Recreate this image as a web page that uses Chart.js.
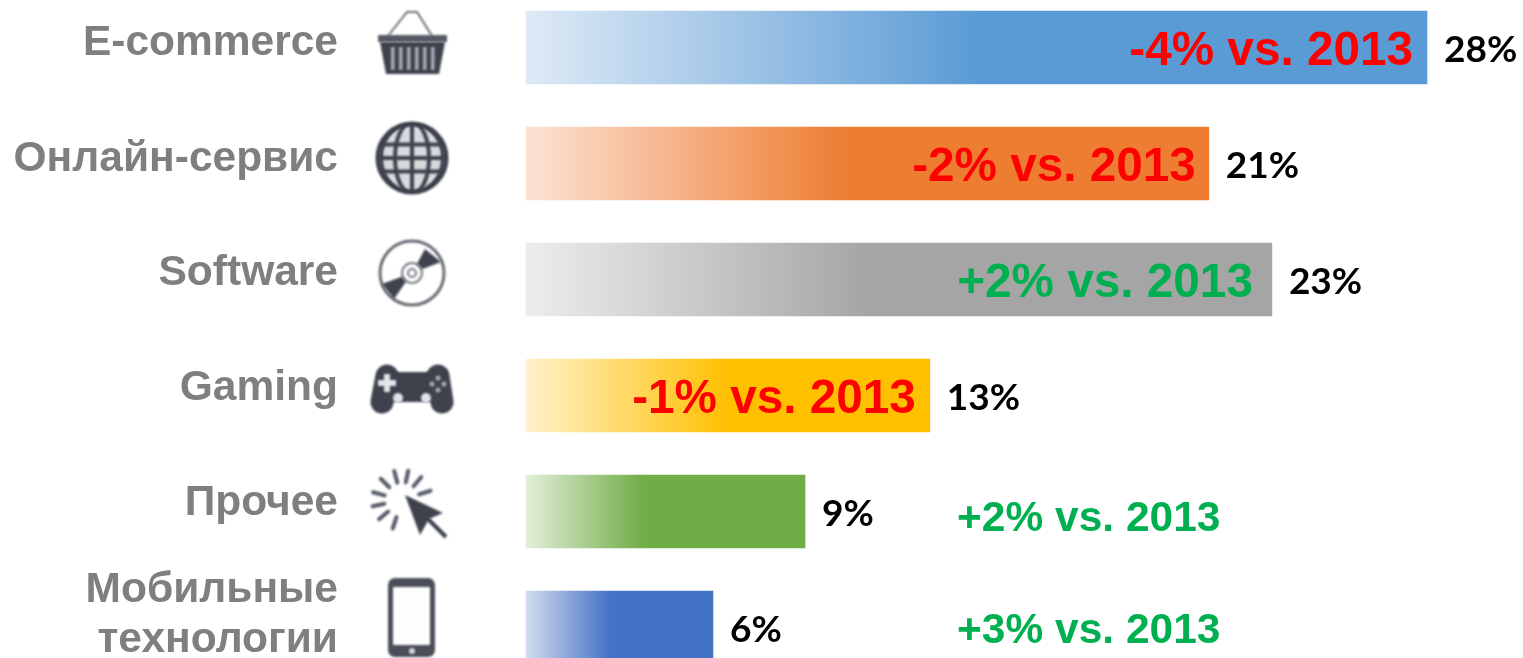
<!DOCTYPE html>
<html lang="ru">
<head>
    <meta charset="UTF-8">
    <title>Chart.js bars</title>
    <script src="https://cdn.jsdelivr.net/npm/chart.js"></script>
    <style>
        html, body { margin: 0; background: #fff; overflow: hidden; }
        canvas { display: block; }
    </style>
</head>
<body>
    <canvas id="shares" width="1523" height="658"></canvas>
    <script>
        const categories = ['E-commerce', 'Онлайн-сервис', 'Software', 'Gaming', 'Прочее', ['Мобильные', 'технологии']];
        // lengths as measured in the picture, they differ slightly from the printed labels
        const barLengths = [28, 21.22, 23.18, 12.55, 8.67, 5.81];
        const shareLabels = ['28%', '21%', '23%', '13%', '9%', '6%'];
        const deltaLabels = ['-4% vs. 2013', '-2% vs. 2013', '+2% vs. 2013', '-1% vs. 2013', '+2% vs. 2013', '+3% vs. 2013'];

        const barColors = ['#5b9bd5', '#ed7d31', '#a5a5a5', '#ffc000', '#70ad47', '#4472c4'];
        const barStartColors = ['#deeaf6', '#fbe3d5', '#ededed', '#fff2cc', '#e2efd9', '#d2dcf0'];
        const solidFrom = [0.5, 0.47, 0.46, 0.5, 0.42, 0.45];
        const deltaColors = ['#ff0000', '#ff0000', '#00b050', '#ff0000', '#00b050', '#00b050'];
        const deltaInset = [14, 13, 19, 14];
        const labelShift = [-4, -4.5, -6, -7.5, -8.5, -12.5];

        const ICON = '#3d424d';

        function basket(c) {
            c.strokeStyle = '#6b6f78'; c.lineWidth = 2;
            c.beginPath(); c.moveTo(388, 36); c.lineTo(407, 12); c.lineTo(417, 12); c.lineTo(432, 36); c.stroke();
            c.fillStyle = '#555963'; c.fillRect(378, 35, 69, 7);
            c.fillStyle = ICON;
            c.beginPath(); c.moveTo(380, 42); c.lineTo(445, 42); c.lineTo(439, 74); c.lineTo(386, 74); c.closePath(); c.fill();
            c.fillStyle = '#a9acb3';
            for (let x = 391; x < 435; x += 8) c.fillRect(x, 47, 3.5, 23);
        }
        function globe(c) {
            c.fillStyle = '#d8dade';
            c.beginPath(); c.arc(412, 158, 35, 0, Math.PI * 2); c.fill();
            c.save();
            c.beginPath(); c.arc(412, 158, 35, 0, Math.PI * 2); c.clip();
            c.strokeStyle = ICON; c.lineWidth = 4;
            c.beginPath(); c.moveTo(412, 120); c.lineTo(412, 196); c.stroke();
            [17, 31].forEach(rx => {
                c.beginPath(); c.ellipse(412, 158, rx, 36, 0, 0, Math.PI * 2); c.stroke();
            });
            [144.5, 158, 171.5].forEach(y => {
                c.beginPath(); c.moveTo(376, y); c.lineTo(448, y); c.stroke();
            });
            c.restore();
            c.strokeStyle = ICON; c.lineWidth = 5;
            c.beginPath(); c.arc(412, 158, 34, 0, Math.PI * 2); c.stroke();
        }
        function disc(c) {
            c.strokeStyle = '#666a72'; c.lineWidth = 3;
            c.beginPath(); c.arc(412, 273, 32, 0, Math.PI * 2); c.stroke();
            c.fillStyle = ICON;
            c.beginPath(); c.moveTo(412, 273); c.lineTo(425, 249); c.lineTo(441, 262); c.closePath(); c.fill();
            c.beginPath(); c.moveTo(412, 273); c.lineTo(382, 284); c.lineTo(394, 299); c.closePath(); c.fill();
            c.fillStyle = '#fff';
            c.beginPath(); c.arc(412, 273, 10, 0, Math.PI * 2); c.fill();
            c.strokeStyle = '#777b83'; c.lineWidth = 2;
            c.beginPath(); c.arc(412, 273, 10, 0, Math.PI * 2); c.stroke();
            c.beginPath(); c.arc(412, 273, 4, 0, Math.PI * 2); c.stroke();
        }
        function gamepad(c) {
            c.fillStyle = ICON; c.strokeStyle = ICON; c.lineCap = 'round'; c.lineWidth = 23;
            c.beginPath(); c.roundRect(382, 372, 60, 30, 8); c.fill();
            c.beginPath(); c.moveTo(387, 376); c.lineTo(382, 402); c.stroke();
            c.beginPath(); c.moveTo(438, 376); c.lineTo(442, 402); c.stroke();
            c.lineCap = 'butt';
            c.fillStyle = '#e4e5e8';
            c.fillRect(378, 380, 18, 6); c.fillRect(384, 374, 6, 18);
            [[398, 398], [426, 398]].forEach(p => { c.beginPath(); c.arc(p[0], p[1], 5, 0, Math.PI * 2); c.fill(); });
            c.fillStyle = '#a9acb3';
            [[438, 378], [438, 390], [432, 384], [444, 384]].forEach(p => { c.beginPath(); c.arc(p[0], p[1], 2.5, 0, Math.PI * 2); c.fill(); });
        }
        function cursor(c) {
            c.strokeStyle = '#55596a'; c.lineWidth = 4; c.lineCap = 'round';
            [-105, -78, -50, -18, -135, -165, 168, 140, 108].forEach(a => {
                const r = a * Math.PI / 180;
                c.beginPath();
                c.moveTo(402 + Math.cos(r) * 18, 500 + Math.sin(r) * 18);
                c.lineTo(402 + Math.cos(r) * 30, 500 + Math.sin(r) * 30);
                c.stroke();
            });
            c.lineCap = 'butt';
            c.fillStyle = ICON;
            c.beginPath(); c.moveTo(405, 495); c.lineTo(443, 513); c.lineTo(429, 519); c.lineTo(420, 535); c.closePath(); c.fill();
            c.strokeStyle = ICON; c.lineWidth = 4;
            c.beginPath(); c.moveTo(426, 517); c.lineTo(446, 537); c.stroke();
        }
        function phone(c) {
            c.fillStyle = '#4a4e58';
            c.beginPath(); c.roundRect(388, 578, 47, 79, 7); c.fill();
            c.fillStyle = '#fdfdfd';
            c.fillRect(393, 587, 37, 58);
            c.fillStyle = '#d8d9dc';
            c.beginPath(); c.arc(412, 651, 3, 0, Math.PI * 2); c.fill();
        }
        const icons = [basket, globe, disc, gamepad, cursor, phone];

        const barText = {
            id: 'barText',
            afterDatasetsDraw(chart) {
                const c = chart.ctx;
                const xs = chart.scales.x, ys = chart.scales.y;

                c.save();
                c.textBaseline = 'middle';
                categories.forEach((name, i) => {
                    const y = ys.getPixelForValue(i);
                    const end = xs.getPixelForValue(barLengths[i]);

                    // category names left of the icons
                    c.font = 'bold 42.5px "Liberation Sans"';
                    c.fillStyle = '#7f7f7f';
                    c.textAlign = 'right';
                    const lines = [].concat(name);
                    lines.forEach((line, n) => {
                        c.fillText(line, 338, y + labelShift[i] + (n - (lines.length - 1) / 2) * 50);
                    });

                    // share next to the bar end
                    c.font = 'bold 37px Lato';
                    c.fillStyle = '#000';
                    c.textAlign = 'left';
                    c.fillText(shareLabels[i], end + 17, y + 3);

                    // change against 2013, inside the bar when it fits
                    c.fillStyle = deltaColors[i];
                    if (i < 4) {
                        c.font = 'bold 47.7px "Liberation Sans"';
                        c.textAlign = 'right';
                        c.fillText(deltaLabels[i], end - deltaInset[i], y + 4);
                    } else {
                        c.font = 'bold 42.5px "Liberation Sans"';
                        c.textAlign = 'left';
                        c.fillText(deltaLabels[i], 957, y + (i === 4 ? 8 : 4));
                    }
                });
                c.restore();

                icons.forEach(draw => {
                    c.save();
                    c.filter = 'blur(1px)';
                    draw(c);
                    c.restore();
                });
            }
        };

        new Chart(document.getElementById('shares'), {
            type: 'bar',
            data: {
                labels: categories,
                datasets: [{
                    data: barLengths,
                    barThickness: 73,
                    clip: false,
                    backgroundColor(ctx) {
                        const i = ctx.dataIndex;
                        const xs = ctx.chart.scales.x;
                        const from = xs ? xs.getPixelForValue(0) : NaN;
                        if (i === undefined || !isFinite(from)) return barColors[0];
                        const g = ctx.chart.ctx.createLinearGradient(from, 0, xs.getPixelForValue(barLengths[i]), 0);
                        g.addColorStop(0, barStartColors[i]);
                        g.addColorStop(solidFrom[i], barColors[i]);
                        g.addColorStop(1, barColors[i]);
                        return g;
                    }
                }]
            },
            options: {
                indexAxis: 'y',
                responsive: false,
                animation: false,
                layout: { padding: { left: 526, right: 96, top: 47.5, bottom: 30.5 } },
                scales: {
                    x: { display: false, min: 0, max: 28 },
                    y: { display: false, offset: false, grid: { offset: false } }
                },
                plugins: { legend: { display: false }, tooltip: { enabled: false } }
            },
            plugins: [barText]
        });
    </script>
</body>
</html>
